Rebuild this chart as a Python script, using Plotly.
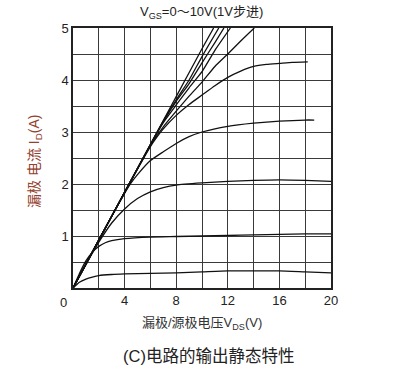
import plotly.graph_objects as go

# ---- data (VDS in V, ID in A) ----
vgs_labels = ["1V", "2V", "3V", "4V", "5V", "6V", "7V", "8V", "9V", "10V"]

c1_x = [0, 0.5, 1, 1.5, 2, 3, 4, 6, 8, 10, 12, 14, 16, 18, 20]
c1_y = [0, 0.11, 0.17, 0.21, 0.24, 0.26, 0.27, 0.28, 0.29, 0.31, 0.33, 0.33, 0.33, 0.31, 0.29]

c2_x = [0, 0.5, 1, 1.5, 2, 2.5, 3, 4, 6, 8, 10, 12, 14, 16, 18, 20]
c2_y = [0, 0.28, 0.52, 0.69, 0.8, 0.87, 0.91, 0.95, 0.98, 0.99, 1.0, 1.01, 1.02, 1.03, 1.04, 1.04]

c3_x = [0, 1, 2, 3, 4, 5, 6, 7, 8, 10, 12, 14, 16, 18, 20]
c3_y = [0, 0.45, 0.88, 1.25, 1.52, 1.72, 1.85, 1.93, 1.98, 2.02, 2.05, 2.07, 2.08, 2.07, 2.05]

c4_x = [0, 2, 3, 4, 4.5, 5, 6, 7, 8, 9, 10, 12, 14, 16, 18, 18.7]
c4_y = [0, 0.92, 1.38, 1.82, 2.02, 2.18, 2.45, 2.62, 2.78, 2.91, 3.0, 3.11, 3.17, 3.21, 3.23, 3.23]

c5_x = [0, 2, 4, 6, 6.5, 7, 8, 9, 10, 11, 12, 13, 14, 15, 16, 17, 18.2]
c5_y = [0, 0.92, 1.84, 2.72, 2.9, 3.06, 3.32, 3.53, 3.71, 3.89, 4.05, 4.17, 4.26, 4.3, 4.32, 4.34, 4.35]

c6_x = [0, 2, 4, 6, 7, 8, 9, 10, 11, 12, 13, 14.05]
c6_y = [0, 0.92, 1.84, 2.74, 3.1, 3.4, 3.69, 3.96, 4.26, 4.5, 4.75, 5.0]

c7_x = [0, 2, 4, 6, 7, 8, 9, 10, 11, 12.2]
c7_y = [0, 0.92, 1.84, 2.75, 3.18, 3.52, 3.85, 4.16, 4.57, 5.0]

c8_x = [0, 2, 4, 6, 7, 8, 9, 10, 11, 11.7]
c8_y = [0, 0.92, 1.84, 2.76, 3.2, 3.59, 3.93, 4.33, 4.72, 5.0]

c9_x = [0, 2, 4, 6, 7, 8, 9, 10, 11.3]
c9_y = [0, 0.92, 1.84, 2.76, 3.21, 3.62, 4.0, 4.45, 5.0]

c10_x = [0, 2, 4, 6, 8, 10, 10.9]
c10_y = [0, 0.92, 1.84, 2.76, 3.68, 4.6, 5.0]

curves_x = [c1_x, c2_x, c3_x, c4_x, c5_x, c6_x, c7_x, c8_x, c9_x, c10_x]
curves_y = [c1_y, c2_y, c3_y, c4_y, c5_y, c6_y, c7_y, c8_y, c9_y, c10_y]

x_ticks = [0, 4, 8, 12, 16, 20]
y_ticks = [1, 2, 3, 4, 5]

FONT = "Liberation Sans, Arial, Noto Sans CJK SC, sans-serif"

fig = go.Figure()
for name, xs, ys in zip(vgs_labels, curves_x, curves_y):
    fig.add_trace(go.Scatter(
        x=xs, y=ys, mode="lines", name=name,
        line=dict(color="#111111", width=1.3, shape="spline", smoothing=0.5),
        showlegend=False, hoverinfo="x+y+name",
    ))

W, H = 400, 383
L, R, T, B = 73, 331, 28, 288

def px(xp):
    return (xp - L) / (R - L)

def py(yp):
    return (B - yp) / (B - T)

grid_col = "#3a3a3a"
fig.update_layout(
    width=W, height=H,
    margin=dict(l=L, r=W - R, t=T, b=H - B),
    paper_bgcolor="white", plot_bgcolor="white",
    font=dict(family=FONT, size=13, color="#222222"),
    xaxis=dict(
        range=[0, 20], tickvals=x_ticks[1:], ticktext=[str(v) for v in x_ticks[1:]],
        showgrid=True, gridcolor=grid_col, gridwidth=1.3,
        minor=dict(dtick=2, tick0=0, showgrid=True, gridcolor=grid_col, gridwidth=1.3),
        showline=True, linecolor="#222222", linewidth=1.5, mirror=True,
        zeroline=False, ticks="", tickfont=dict(size=13, color="#222222"),
        fixedrange=True,
    ),
    yaxis=dict(
        range=[0, 5], tickvals=y_ticks, ticktext=[str(v) for v in y_ticks],
        showgrid=True, gridcolor=grid_col, gridwidth=1.3,
        minor=dict(dtick=0.5, tick0=0, showgrid=True, gridcolor=grid_col, gridwidth=1.3),
        showline=True, linecolor="#222222", linewidth=1.5, mirror=True,
        zeroline=False, ticks="", tickfont=dict(size=13, color="#222222"),
        fixedrange=True,
    ),
    annotations=[
        dict(text="V<sub>GS</sub>=0～10V(1V步进)", x=px(201), y=py(12), xref="paper", yref="paper",
             showarrow=False, xanchor="center", yanchor="middle",
             font=dict(size=13, color="#222222")),
        dict(text="漏极/源极电压V<sub>DS</sub>(V)", x=px(202), y=py(323), xref="paper", yref="paper",
             showarrow=False, xanchor="center", yanchor="middle",
             font=dict(size=13, color="#333333")),
        dict(text="(C)电路的输出静态特性", x=px(208), y=py(356), xref="paper", yref="paper",
             showarrow=False, xanchor="center", yanchor="middle",
             font=dict(size=16.5, color="#222222")),
        dict(text="0", x=px(63), y=py(302), xref="paper", yref="paper",
             showarrow=False, xanchor="center", yanchor="middle",
             font=dict(size=13, color="#222222")),
        dict(text="漏极 电流 I<sub>D</sub>(A)", x=px(35), y=py(162), xref="paper", yref="paper",
             showarrow=False, xanchor="center", yanchor="middle", textangle=-90,
             font=dict(size=14, color="#93412f")),
    ],
)

fig.write_html("out.html", config={"displayModeBar": False},
               post_script="document.body.style.margin='0';document.body.style.padding='0';")
